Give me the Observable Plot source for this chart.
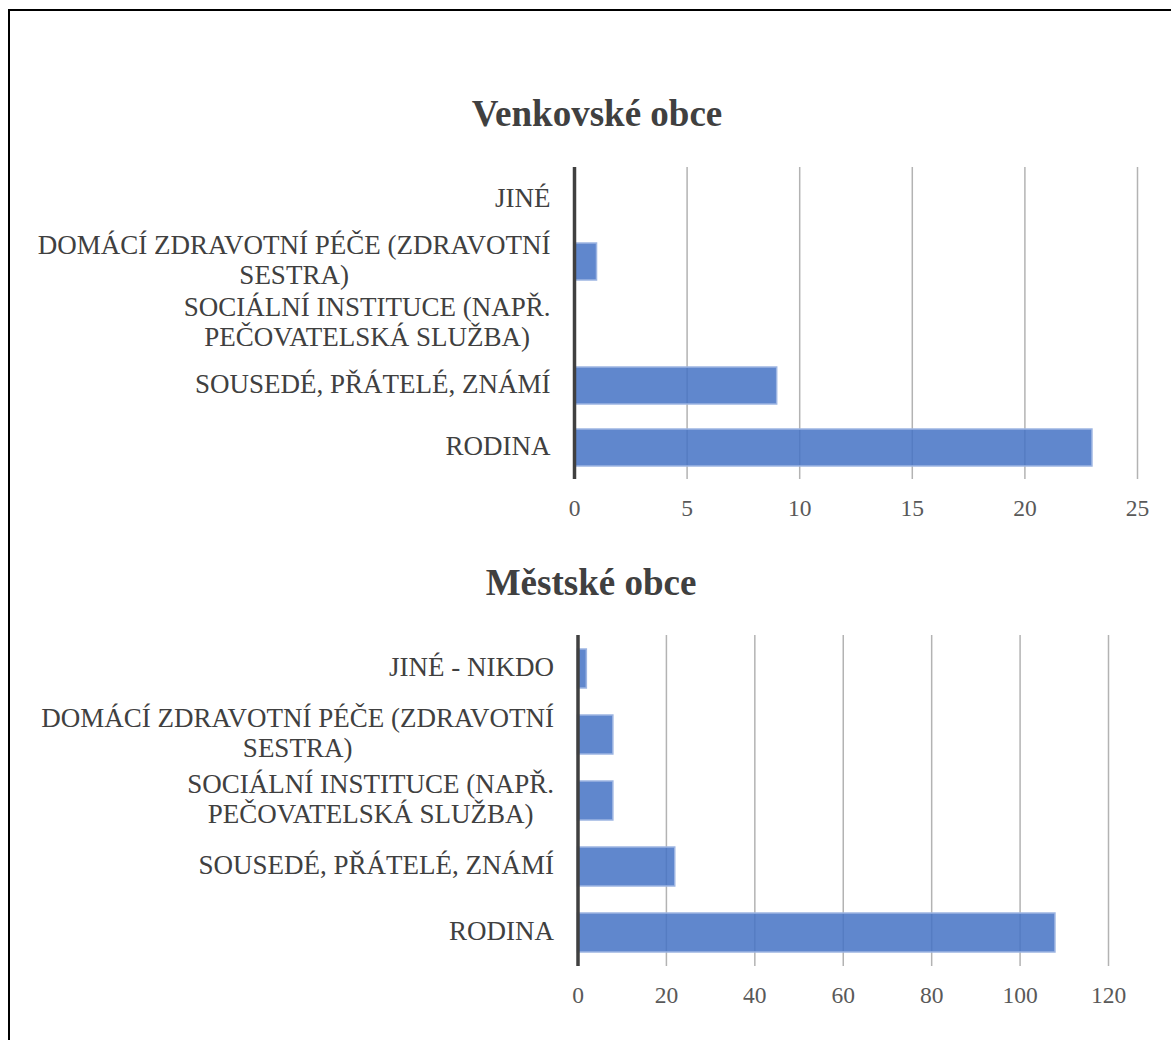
<!DOCTYPE html>
<html>
<head>
<meta charset="utf-8">
<script src="https://cdn.jsdelivr.net/npm/d3@7"></script>
<script src="https://cdn.jsdelivr.net/npm/@observablehq/plot@0.6"></script>
<style>
  html, body { margin: 0; padding: 0; background: #fff; }
  #page { position: relative; width: 1171px; height: 1040px; overflow: hidden; font-family: "Liberation Serif", "Times New Roman", serif; }
  #frame { position: absolute; left: 8px; top: 9px; width: 1200px; height: 1100px; border-left: 2px solid #000; border-top: 2px solid #000; }
  .title { position: absolute; width: 600px; text-align: center; font-size: 37px; line-height: 37px; font-weight: bold; color: #404040; }
  .chart { position: absolute; left: 0; }
</style>
</head>
<body>
<div id="page">
  <div id="frame"></div>
  <div class="title" id="t1" style="left:297px; top:95px;"></div>
  <div class="title" id="t2" style="left:291px; top:564px;"></div>
  <div class="chart" id="c1" style="top:140px;"></div>
  <div class="chart" id="c2" style="top:610px;"></div>
</div>
<script>
const titleRural = "Venkovské obce";
const titleUrban = "Městské obce";

const categoriesRural = [
  "JINÉ",
  "DOMÁCÍ ZDRAVOTNÍ PÉČE (ZDRAVOTNÍ\nSESTRA)",
  "SOCIÁLNÍ INSTITUCE (NAPŘ.\nPEČOVATELSKÁ SLUŽBA)",
  "SOUSEDÉ, PŘÁTELÉ, ZNÁMÍ",
  "RODINA"
];
const valuesRural = [0, 1, 0, 9, 23];
const ticksRural = [0, 5, 10, 15, 20, 25];

const categoriesUrban = [
  "JINÉ - NIKDO",
  "DOMÁCÍ ZDRAVOTNÍ PÉČE (ZDRAVOTNÍ\nSESTRA)",
  "SOCIÁLNÍ INSTITUCE (NAPŘ.\nPEČOVATELSKÁ SLUŽBA)",
  "SOUSEDÉ, PŘÁTELÉ, ZNÁMÍ",
  "RODINA"
];
const valuesUrban = [2, 8, 8, 22, 108];
const ticksUrban = [0, 20, 40, 60, 80, 100, 120];

const FONT = '"Liberation Serif", "Times New Roman", serif';
const LABEL_SIZE = 27;
const ctx = document.createElement("canvas").getContext("2d");
ctx.font = `${LABEL_SIZE}px "Liberation Serif"`;
function blockWidth(s) {
  return Math.max(...s.split("\n").map(l => ctx.measureText(l).width));
}

function makeChart(categories, values, ticks, opts) {
  const data = categories.map((c, i) => ({category: c, value: values[i]}));
  const gap = 24;
  const labelMarks = categories.map(c =>
    Plot.text([c], {
      x: () => 0, y: d => d, text: d => d,
      textAnchor: "middle", lineAnchor: "middle", lineHeight: 1.11,
      dx: -(gap + blockWidth(c) / 2), dy: -3,
      fontSize: LABEL_SIZE, fill: "#404040", fontFamily: FONT
    })
  );
  return Plot.plot({
    width: 1171,
    height: opts.height,
    marginLeft: opts.marginLeft,
    marginRight: opts.marginRight,
    marginTop: opts.marginTop,
    marginBottom: opts.marginBottom,
    style: {fontFamily: FONT, background: "transparent", overflow: "visible"},
    x: {domain: [ticks[0], ticks[ticks.length - 1]], ticks: ticks},
    y: {domain: categories, paddingInner: 0.41, paddingOuter: 0.205, axis: null},
    marks: [
      Plot.gridX(ticks, {stroke: "#b3b3b3", strokeOpacity: 1, strokeWidth: 1.5}),
      Plot.barX(data, {
        x: "value", y: "category",
        fill: "#4472C4", fillOpacity: 0.85,
        stroke: "#9db5e2", strokeWidth: 1.5
      }),
      Plot.ruleX([0], {stroke: "#404040", strokeWidth: 3.5}),
      Plot.axisX(ticks, {
        tickSize: 0, tickPadding: 20, fontSize: 23.5, fill: "#595959",
        fontFamily: FONT, label: null
      }),
      ...labelMarks
    ]
  });
}

document.getElementById("t1").textContent = titleRural;
document.getElementById("t2").textContent = titleUrban;

document.getElementById("c1").appendChild(makeChart(categoriesRural, valuesRural, ticksRural, {
  height: 388, marginLeft: 574, marginRight: 34, marginTop: 27, marginBottom: 49
}));
document.getElementById("c2").appendChild(makeChart(categoriesUrban, valuesUrban, ticksUrban, {
  height: 405, marginLeft: 577.5, marginRight: 63, marginTop: 25, marginBottom: 49
}));
</script>
</body>
</html>
